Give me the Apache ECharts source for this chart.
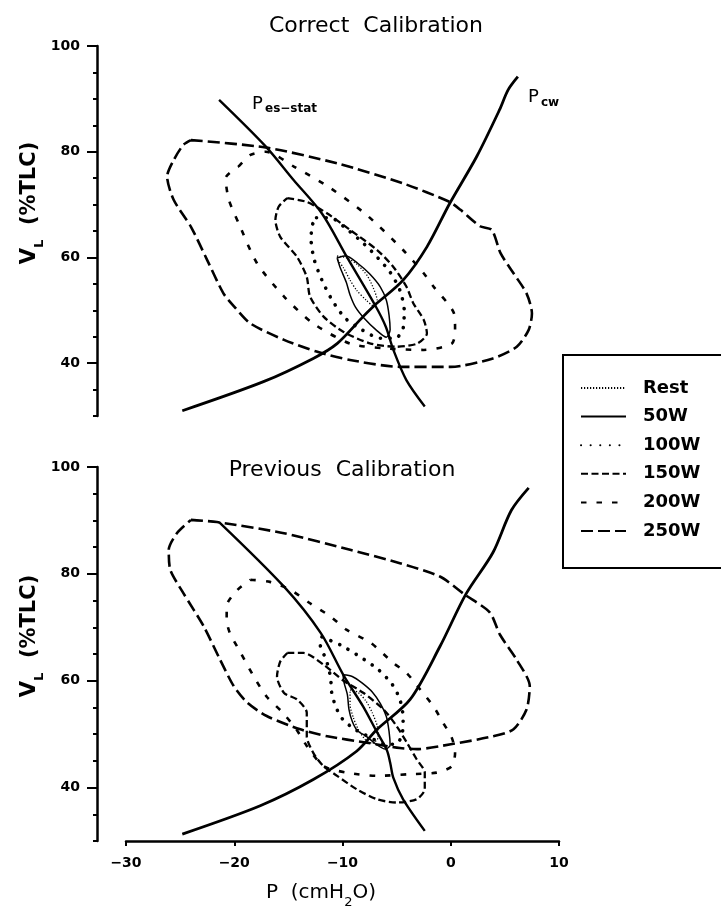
<!DOCTYPE html>
<html>
<head>
<meta charset="utf-8">
<title>Pressure–volume loops during exercise</title>
<script src="https://cdn.jsdelivr.net/npm/echarts@6/dist/echarts.min.js"></script>
<style>
  html, body { margin: 0; padding: 0; background: #fff; }
  #chart { width: 721px; height: 909px; }
</style>
</head>
<body>
<div id="chart"></div>
<script>
// Loop and pressure-curve data, [P (cmH2O), VL (%TLC)]
const legendNames = ['Rest', '50W', '100W', '150W', '200W', '250W'];
const yMajorTicks = [40, 60, 80, 100];
const yMinorTicks = [30, 35, 45, 50, 55, 65, 70, 75, 85, 90, 95];

// ---- Correct calibration ----
const correctRest = [[-10.5,60.3],[-9.6,59.9],[-8.6,58.6],[-7.7,56.5],[-7.15,54.2],[-6.8,51.9],[-7.1,50.8],[-7.8,51.9],[-8.7,53.8],[-9.3,55.7],[-9.9,58.0],[-10.4,59.5],[-10.5,60.3]];
const correct50W = [[-10.5,59.9],[-9.7,60.3],[-8.6,58.9],[-7.5,56.9],[-6.5,54.4],[-5.95,51.9],[-5.7,49.1],[-5.6,46.3],[-5.95,44.9],[-6.9,46.3],[-8.0,48.5],[-8.8,50.6],[-9.3,52.9],[-9.65,55.3],[-10.2,58.0],[-10.5,59.9]];
const correct100W = [[-12.4,67.5],[-11.1,67.5],[-9.75,65.6],[-8.4,63.3],[-7.0,60.5],[-5.6,57.2],[-4.7,53.8],[-4.3,50.0],[-4.4,46.6],[-5.1,44.7],[-6.5,44.7],[-8.2,46.3],[-9.75,48.5],[-10.95,51.9],[-11.9,55.7],[-12.6,59.5],[-12.9,63.3],[-12.8,66.1],[-12.4,67.5]];
const correct150W = [[-15.1,71.2],[-13.3,70.5],[-11.4,68.3],[-9.3,65.2],[-6.8,61.4],[-5.3,58.2],[-4.1,54.5],[-3.45,51.3],[-2.5,48.2],[-2.2,45.6],[-3.1,43.7],[-5.0,43.1],[-7.4,43.7],[-9.9,45.9],[-11.75,48.8],[-13.0,52.6],[-13.3,56.3],[-14.2,60.1],[-15.75,63.9],[-16.2,67.1],[-15.9,69.6],[-15.1,71.2]];
const correct200W = [[-19.6,77.2],[-18.5,79.4],[-17.1,80.0],[-14.5,77.2],[-11.1,73.1],[-7.75,68.0],[-4.4,61.4],[-2.5,57.0],[-1.6,54.5],[0.3,49.4],[0.4,46.3],[0.1,43.7],[-2.5,42.5],[-6.2,42.8],[-9.3,43.7],[-12.7,47.5],[-15.4,52.6],[-17.9,58.9],[-19.6,66.5],[-20.5,70.9],[-20.8,75.0],[-19.6,77.2]];
const correct250W = [[-24.0,82.2],[-17.1,80.8],[-10.5,77.8],[-4.4,74.0],[-0.1,70.5],[0.9,69.0],[2.7,65.9],[3.8,65.2],[4.6,60.8],[5.8,57.0],[7.0,53.2],[7.5,49.4],[7.2,46.3],[6.1,43.1],[3.9,40.9],[0.0,39.3],[-4.7,39.3],[-9.3,40.6],[-12.4,42.2],[-15.4,44.4],[-18.5,47.5],[-20.0,50.7],[-21.0,53.2],[-22.5,59.5],[-24.0,65.8],[-25.6,70.9],[-26.2,75.3],[-25.6,78.4],[-24.7,81.3],[-24.0,82.2]];
const correctPesStat = [[-21.4,89.8],[-17.1,81.0],[-14.5,74.6],[-11.9,68.3],[-9.6,60.1],[-7.0,51.0],[-6.0,46.9],[-5.3,42.5],[-4.1,36.8],[-2.4,31.8]];
const correctPcw = [[-24.8,31.0],[-17.3,36.5],[-12.7,40.9],[-10.5,43.7],[-8.1,48.8],[-7.0,51.0],[-4.4,55.7],[-2.2,62.0],[-0.1,70.2],[2.4,79.1],[4.5,87.9],[5.3,91.7],[6.2,94.2]];

// ---- Previous calibration ----
const previousRest = [[-9.3,58.3],[-8.55,57.8],[-7.8,56.1],[-7.25,54.0],[-6.8,51.6],[-6.7,49.4],[-7.25,48.3],[-7.9,49.0],[-8.55,50.9],[-9.0,53.1],[-9.3,55.5],[-9.3,58.3]];
const previous50W = [[-9.95,61.1],[-9.1,60.8],[-8.2,59.6],[-7.25,57.9],[-6.5,55.7],[-5.95,53.3],[-5.7,50.5],[-5.6,47.9],[-6.05,47.2],[-6.9,48.1],[-7.8,49.6],[-8.65,50.7],[-9.1,52.4],[-9.4,54.6],[-9.55,57.4],[-9.85,59.6],[-9.95,61.1]];
const previous100W = [[-11.9,68.2],[-10.2,66.7],[-8.4,64.5],[-6.7,62.1],[-5.4,59.3],[-4.7,56.5],[-4.4,53.1],[-4.5,49.9],[-5.05,48.1],[-6.05,48.1],[-7.45,49.4],[-8.85,50.9],[-9.95,52.7],[-10.6,55.0],[-11.0,57.8],[-11.1,60.6],[-11.5,63.9],[-12.05,66.7],[-11.9,68.2]];
const previous150W = [[-15.1,65.2],[-13.6,65.2],[-11.75,63.0],[-9.9,60.0],[-8.05,57.7],[-6.2,54.6],[-5.0,51.5],[-4.05,48.4],[-3.15,45.3],[-2.4,42.8],[-2.4,39.7],[-3.15,37.8],[-5.0,37.2],[-6.8,37.8],[-8.7,39.7],[-10.5,42.2],[-11.75,44.0],[-12.7,46.5],[-13.3,49.6],[-13.3,54.0],[-14.2,56.5],[-15.4,57.7],[-16.05,60.8],[-15.75,63.6],[-15.1,65.2]];
const previous200W = [[-18.5,78.9],[-16.7,78.5],[-14.8,77.0],[-13.0,74.5],[-11.1,72.0],[-9.6,69.5],[-7.4,67.1],[-5.3,63.3],[-4.1,61.5],[-2.8,58.3],[-1.6,55.2],[-0.7,52.1],[0.1,49.3],[0.4,46.5],[0.1,44.0],[-1.3,42.8],[-3.8,42.5],[-6.8,42.2],[-9.6,42.8],[-11.75,44.0],[-13.3,47.8],[-14.3,51.0],[-15.6,54.2],[-17.0,57.0],[-18.2,60.8],[-19.4,65.2],[-20.4,68.9],[-20.7,71.4],[-20.7,74.0],[-19.7,77.0],[-18.5,78.9]];
const previous250W = [[-24.0,90.1],[-21.6,89.7],[-15.4,87.6],[-9.3,84.5],[-4.7,82.0],[-1.0,79.5],[1.3,76.1],[3.6,72.8],[4.55,68.6],[6.1,63.9],[7.3,59.0],[7.0,54.6],[5.8,50.9],[3.9,49.6],[0.0,48.1],[-3.1,47.2],[-4.7,47.4],[-7.75,48.4],[-11.4,49.6],[-13.9,50.9],[-17.0,53.4],[-18.8,55.9],[-20.05,59.0],[-21.3,63.9],[-22.8,70.1],[-24.7,76.4],[-25.9,80.7],[-26.05,84.5],[-25.3,87.6],[-24.0,90.1]];
const previousPesStat = [[-21.4,89.7],[-15.4,77.6],[-12.0,68.9],[-9.9,61.0],[-8.1,55.2],[-6.9,50.7],[-5.9,47.0],[-5.6,44.7],[-5.3,41.8],[-4.4,37.8],[-2.4,31.9]];
const previousPcw = [[-24.8,31.3],[-17.6,36.6],[-12.7,41.5],[-8.7,46.8],[-6.8,50.9],[-3.75,56.5],[-1.0,66.4],[1.4,76.2],[3.9,84.0],[5.6,91.9],[7.2,96.1]];

const FONT = 'DejaVu Sans';
const INK = '#000';

// stroke pattern for each workload
const strokeFor = {
  'Rest': { width: 1.3, type: [1.2, 1.8], cap: 'butt' },
  '50W':  { width: 1.5, type: 'solid', cap: 'butt' },
  '100W': { width: 3.6, type: [0.1, 9.5], cap: 'round' },
  '150W': { width: 2.3, type: [7, 3.5], cap: 'butt' },
  '200W': { width: 2.6, type: [5.5, 10], cap: 'butt' },
  '250W': { width: 2.6, type: [12, 5], cap: 'butt' }
};

const panels = [
  { loops: [correctRest, correct50W, correct100W, correct150W, correct200W, correct250W],
    stat: correctPesStat, cw: correctPcw, xIdx: 0, yIdx: 0 },
  { loops: [previousRest, previous50W, previous100W, previous150W, previous200W, previous250W],
    stat: previousPesStat, cw: previousPcw, xIdx: 1, yIdx: 2 }
];

const series = [];
panels.forEach(function (p) {
  p.loops.forEach(function (data, i) {
    const name = legendNames[i];
    const s = strokeFor[name];
    series.push({
      name: name, type: 'line', data: data,
      xAxisIndex: p.xIdx, yAxisIndex: p.yIdx,
      smooth: 0.25, symbol: 'none', showSymbol: false, silent: true,
      itemStyle: { color: INK },
      lineStyle: { color: INK, width: s.width, type: s.type, cap: s.cap, join: 'round' }
    });
  });
  series.push({
    name: 'Pes-stat', type: 'line', data: p.stat,
    xAxisIndex: p.xIdx, yAxisIndex: p.yIdx, smooth: 0.3, symbol: 'none', silent: true,
    lineStyle: { color: INK, width: 2.4, type: 'solid' }
  });
  series.push({
    name: 'Pcw', type: 'line', data: p.cw,
    xAxisIndex: p.xIdx, yAxisIndex: p.yIdx, smooth: 0.3, symbol: 'none', silent: true,
    lineStyle: { color: INK, width: 2.8, type: 'solid' }
  });
});

function volumeAxes(grid) {
  return [
    { gridIndex: grid, type: 'value', position: 'left', min: 30, max: 100, offset: 29,
      axisLine: { show: true, onZero: false, lineStyle: { color: INK, width: 2.5 } },
      axisTick: { show: true, customValues: yMajorTicks, length: 10, lineStyle: { color: INK, width: 2 } },
      axisLabel: { customValues: yMajorTicks, color: INK, fontFamily: FONT, fontWeight: 'bold', fontSize: 14, margin: 17 },
      splitLine: { show: false } },
    { gridIndex: grid, type: 'value', position: 'left', min: 30, max: 100, offset: 29,
      axisLine: { show: false, onZero: false },
      axisTick: { show: true, customValues: yMinorTicks, length: 4, lineStyle: { color: INK, width: 2 } },
      axisLabel: { show: false },
      splitLine: { show: false } }
  ];
}

const option = {
  backgroundColor: '#fff',
  animation: false,
  title: [
    { text: 'Correct  Calibration', left: 376, top: 15, textAlign: 'center', padding: 0,
      textStyle: { fontFamily: FONT, fontWeight: 'normal', fontSize: 22, color: INK } },
    { text: 'Previous  Calibration', left: 342, top: 459, textAlign: 'center', padding: 0,
      textStyle: { fontFamily: FONT, fontWeight: 'normal', fontSize: 22, color: INK } }
  ],
  legend: {
    data: legendNames, orient: 'vertical', left: 563, top: 355,
    padding: [23, 140, 27, 17], itemWidth: 45, itemHeight: 14, itemGap: 8.6,
    borderColor: INK, borderWidth: 2, borderRadius: 0, backgroundColor: '#fff',
    selectedMode: false,
    itemStyle: { opacity: 0 },
    textStyle: { fontFamily: FONT, fontWeight: 'bold', fontSize: 18, color: INK, lineHeight: 20, padding: [0, 0, 0, 12] }
  },
  grid: [
    { left: 126, top: 46, width: 433, height: 370 },
    { left: 126, top: 467, width: 433, height: 374 }
  ],
  xAxis: [
    { gridIndex: 0, type: 'value', min: -30, max: 10, show: false },
    { gridIndex: 1, type: 'value', min: -30, max: 10, interval: 10,
      axisLine: { show: true, onZero: false, lineStyle: { color: INK, width: 2.5 } },
      axisTick: { show: true, length: 5, lineStyle: { color: INK, width: 2 } },
      axisLabel: { color: INK, fontFamily: FONT, fontWeight: 'bold', fontSize: 14, margin: 15,
        formatter: function (v) { return v < 0 ? '\u2212' + Math.abs(v) : String(v); } },
      splitLine: { show: false } }
  ],
  yAxis: volumeAxes(0).concat(volumeAxes(1)),
  graphic: [
    // volume axis names
    { type: 'text', x: 30, y: 203, rotation: Math.PI / 2,
      style: { text: 'V{s|L}  (%TLC)', fill: INK, font: 'bold 21px "DejaVu Sans"', align: 'center', verticalAlign: 'middle',
        rich: { s: { fontSize: 13, fontWeight: 'bold', fontFamily: FONT, verticalAlign: 'bottom', lineHeight: 13, padding: [0, 0, -6, 0] } } } },
    { type: 'text', x: 30, y: 636, rotation: Math.PI / 2,
      style: { text: 'V{s|L}  (%TLC)', fill: INK, font: 'bold 21px "DejaVu Sans"', align: 'center', verticalAlign: 'middle',
        rich: { s: { fontSize: 13, fontWeight: 'bold', fontFamily: FONT, verticalAlign: 'bottom', lineHeight: 13, padding: [0, 0, -6, 0] } } } },
    // pressure axis name
    { type: 'text', x: 321, y: 893,
      style: { text: 'P  (cmH{s|2}O)', fill: INK, font: '20px "DejaVu Sans"', align: 'center', verticalAlign: 'middle',
        rich: { s: { fontSize: 13, fontFamily: FONT, verticalAlign: 'bottom', lineHeight: 13, padding: [0, 0, -6, 0] } } } },
    // curve labels
    { type: 'text', x: 252, y: 104,
      style: { text: 'P', fill: INK, font: '18px "DejaVu Sans"', align: 'left', verticalAlign: 'middle' } },
    { type: 'text', x: 265, y: 109,
      style: { text: 'es\u2212stat', fill: INK, font: 'bold 12px "DejaVu Sans"', align: 'left', verticalAlign: 'middle' } },
    { type: 'text', x: 528, y: 97,
      style: { text: 'P', fill: INK, font: '18px "DejaVu Sans"', align: 'left', verticalAlign: 'middle' } },
    { type: 'text', x: 541, y: 103,
      style: { text: 'cw', fill: INK, font: 'bold 12px "DejaVu Sans"', align: 'left', verticalAlign: 'middle' } }
  ],
  series: series
};

const chart = echarts.init(document.getElementById('chart'), null, { renderer: 'canvas' });
chart.setOption(option);
</script>
</body>
</html>
